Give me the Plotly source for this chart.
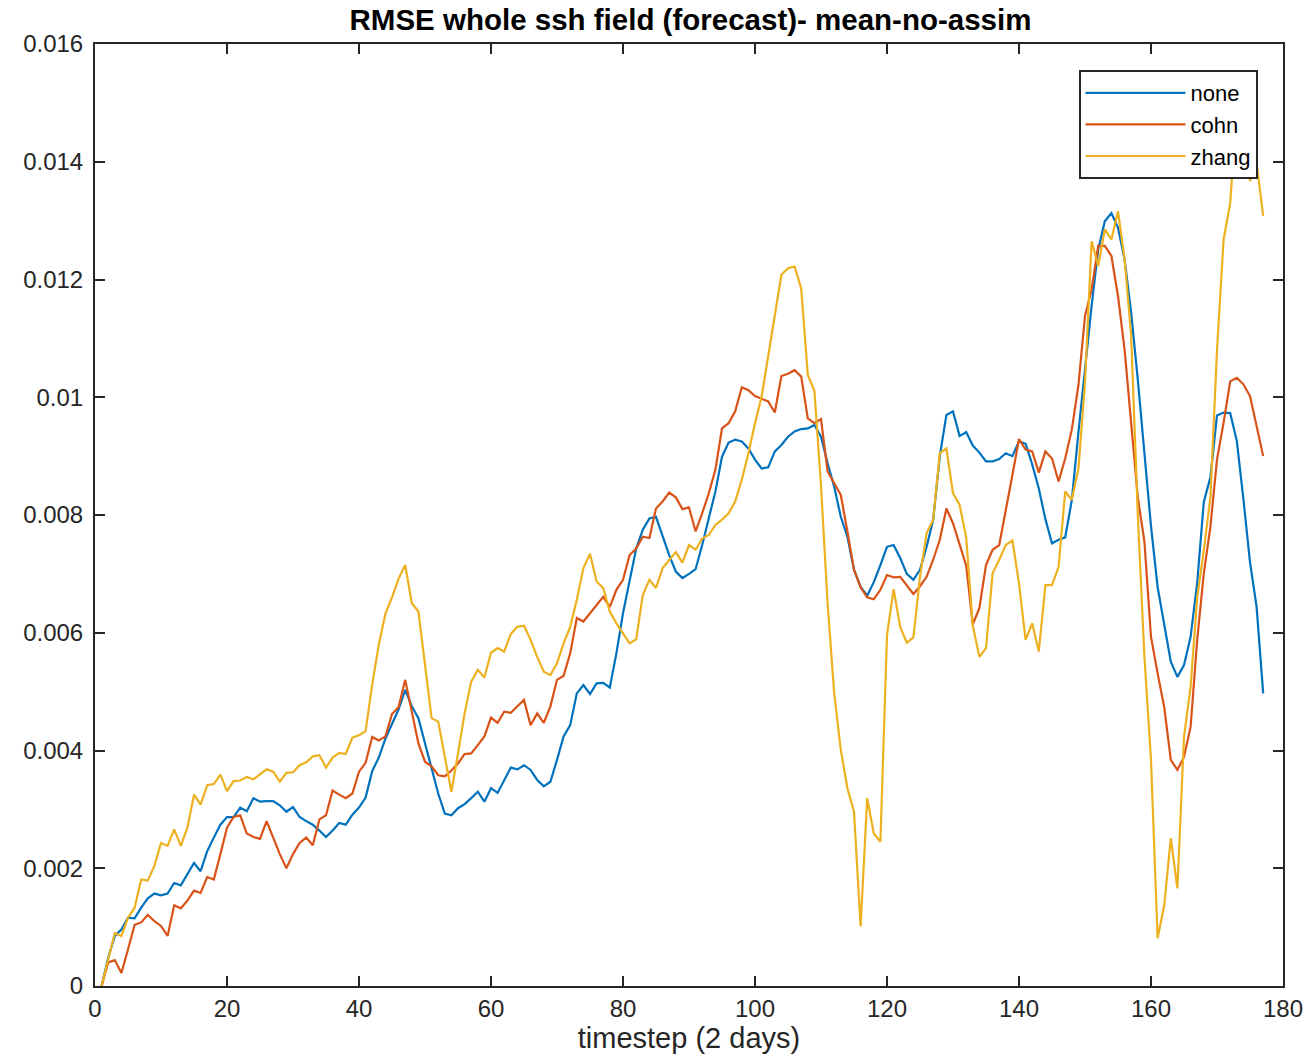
import plotly.graph_objects as go

timestep = list(range(1, 178))

none_ms = [
    0, 0.48, 0.85, 0.96, 1.16, 1.15, 1.33, 1.49, 1.57, 1.54,
    1.57, 1.75, 1.71, 1.90, 2.09, 1.95, 2.29, 2.52, 2.74, 2.87,
    2.87, 3.03, 2.97, 3.19, 3.13, 3.14, 3.14, 3.07, 2.96, 3.04,
    2.87, 2.80, 2.74, 2.64, 2.53, 2.64, 2.77, 2.74, 2.91, 3.03,
    3.20, 3.65, 3.88, 4.20, 4.46, 4.70, 5.03, 4.75, 4.55, 4.12,
    3.67, 3.27, 2.93, 2.90, 3.02, 3.09, 3.19, 3.30, 3.13, 3.36,
    3.28, 3.50, 3.71, 3.68, 3.75, 3.67, 3.50, 3.39, 3.47, 3.84,
    4.24, 4.43, 4.97, 5.11, 4.96, 5.14, 5.15, 5.07, 5.65, 6.33,
    6.90, 7.43, 7.75, 7.94, 7.97, 7.63, 7.32, 7.04, 6.93, 7.00,
    7.08, 7.49, 7.94, 8.40, 8.99, 9.23, 9.28, 9.25, 9.13, 8.94,
    8.79, 8.81, 9.08, 9.19, 9.33, 9.42, 9.46, 9.47, 9.53, 9.33,
    8.88, 8.48, 7.97, 7.63, 7.07, 6.78, 6.63, 6.86, 7.15, 7.46,
    7.49, 7.27, 7.00, 6.90, 7.07, 7.46, 7.92, 9.00, 9.70, 9.76,
    9.34, 9.41, 9.18, 9.06, 8.91, 8.91, 8.95, 9.05, 9.00, 9.25,
    9.21, 8.86, 8.45, 7.93, 7.52, 7.58, 7.62, 8.25, 9.40, 10.53,
    11.55, 12.51, 12.99, 13.13, 12.88, 12.34, 11.43, 10.30, 9.11, 7.81,
    6.78, 6.16, 5.51, 5.25, 5.45, 5.93, 6.85, 8.22, 8.64, 9.69,
    9.74, 9.73, 9.26, 8.27, 7.20, 6.44, 4.97,
]

cohn_ms = [
    0, 0.40, 0.44, 0.22, 0.62, 1.04, 1.08, 1.21, 1.10, 1.02,
    0.85, 1.37, 1.32, 1.45, 1.62, 1.58, 1.85, 1.81, 2.24, 2.69,
    2.87, 2.90, 2.59, 2.53, 2.50, 2.80, 2.52, 2.24, 2.00, 2.24,
    2.43, 2.52, 2.39, 2.83, 2.90, 3.32, 3.25, 3.19, 3.27, 3.64,
    3.79, 4.23, 4.17, 4.24, 4.62, 4.74, 5.20, 4.63, 4.12, 3.81,
    3.73, 3.58, 3.56, 3.66, 3.78, 3.94, 3.95, 4.09, 4.24, 4.56,
    4.47, 4.66, 4.64, 4.75, 4.86, 4.43, 4.63, 4.47, 4.75, 5.20,
    5.27, 5.65, 6.25, 6.19, 6.33, 6.47, 6.61, 6.44, 6.73, 6.90,
    7.32, 7.43, 7.63, 7.61, 8.11, 8.23, 8.38, 8.30, 8.10, 8.13,
    7.72, 8.03, 8.37, 8.77, 9.47, 9.56, 9.76, 10.17, 10.12, 10.02,
    9.98, 9.93, 9.74, 10.36, 10.40, 10.46, 10.35, 9.64, 9.56, 9.63,
    8.74, 8.54, 8.34, 7.72, 7.07, 6.77, 6.60, 6.57, 6.73, 6.98,
    6.94, 6.95, 6.81, 6.66, 6.79, 6.95, 7.24, 7.58, 8.11, 7.86,
    7.50, 7.14, 6.14, 6.42, 7.15, 7.41, 7.49, 8.06, 8.68, 9.29,
    9.11, 9.08, 8.72, 9.08, 8.96, 8.57, 8.96, 9.45, 10.20, 11.38,
    11.83, 12.57, 12.57, 12.40, 11.72, 10.81, 9.55, 8.30, 7.55, 5.93,
    5.31, 4.74, 3.84, 3.67, 3.89, 4.40, 5.88, 7.01, 7.80, 8.94,
    9.57, 10.27, 10.33, 10.22, 10.02, 9.51, 9.00,
]

zhang_ms = [
    0, 0.45, 0.90, 0.85, 1.16, 1.33, 1.81, 1.79, 2.04, 2.43,
    2.38, 2.66, 2.38, 2.69, 3.25, 3.08, 3.41, 3.43, 3.59, 3.31,
    3.48, 3.49, 3.55, 3.51, 3.59, 3.68, 3.64, 3.47, 3.62, 3.63,
    3.75, 3.80, 3.90, 3.92, 3.71, 3.88, 3.96, 3.94, 4.22, 4.26,
    4.33, 5.12, 5.80, 6.32, 6.60, 6.92, 7.15, 6.50, 6.36, 5.45,
    4.55, 4.49, 3.90, 3.30, 3.95, 4.63, 5.17, 5.37, 5.24, 5.66,
    5.74, 5.68, 5.98, 6.10, 6.12, 5.88, 5.59, 5.34, 5.28, 5.48,
    5.82, 6.10, 6.56, 7.10, 7.34, 6.87, 6.76, 6.36, 6.16, 5.99,
    5.82, 5.89, 6.64, 6.90, 6.76, 7.10, 7.23, 7.37, 7.19, 7.49,
    7.41, 7.60, 7.66, 7.83, 7.92, 8.03, 8.23, 8.60, 9.05, 9.56,
    10.01, 10.69, 11.37, 12.08, 12.19, 12.22, 11.85, 10.38, 10.11, 8.50,
    6.50, 4.97, 4.01, 3.36, 2.96, 1.01, 3.19, 2.59, 2.45, 5.96,
    6.74, 6.10, 5.83, 5.92, 6.95, 7.69, 7.92, 9.05, 9.13, 8.37,
    8.17, 7.62, 6.12, 5.59, 5.74, 7.01, 7.24, 7.49, 7.57, 6.84,
    5.88, 6.16, 5.68, 6.81, 6.81, 7.12, 8.40, 8.26, 8.78, 10.25,
    12.65, 12.23, 12.85, 12.68, 13.16, 12.34, 11.04, 8.00, 5.60, 3.84,
    0.81, 1.37, 2.51, 1.66, 4.23, 5.08, 6.60, 7.40, 8.30, 10.80,
    12.68, 13.30, 14.90, 14.70, 13.67, 13.98, 13.08,
]

series_names = ["none", "cohn", "zhang"]
series_colors = ["#0072BD", "#D95319", "#EDB120"]

y_tickvals = [0, 0.002, 0.004, 0.006, 0.008, 0.01, 0.012, 0.014, 0.016]
y_ticktext = ["0", "0.002", "0.004", "0.006", "0.008", "0.01", "0.012", "0.014", "0.016"]
x_tickvals = [0, 20, 40, 60, 80, 100, 120, 140, 160, 180]

FONT = "Liberation Sans, Arial, Helvetica, sans-serif"
AXC = "#262626"

fig = go.Figure()
for name, vals, col in zip(series_names, [none_ms, cohn_ms, zhang_ms], series_colors):
    fig.add_trace(go.Scatter(
        x=timestep, y=[v / 1000.0 for v in vals], mode="lines", name=name,
        line=dict(color=col, width=2.2), hoverinfo="skip",
    ))

fig.update_layout(
    width=1315, height=1056,
    margin=dict(l=95, r=29, t=44, b=70),
    paper_bgcolor="white", plot_bgcolor="white",
    font=dict(family=FONT, color=AXC, size=24),
    title=dict(
        text="<b>RMSE whole ssh field (forecast)- mean-no-assim</b>",
        x=(95 + 1286) / 2 / 1315, xanchor="center",
        y=1 - 20 / 1056, yanchor="middle",
        font=dict(family=FONT, size=29.5, color="#000000"),
    ),
    showlegend=True,
    legend=dict(
        x=(1081 - 95) / 1191, xanchor="left",
        y=(986 - 70) / 942, yanchor="top",
        bgcolor="white", bordercolor="#262626", borderwidth=2,
        font=dict(family=FONT, size=22, color="#000000"),
        tracegroupgap=0, itemwidth=100,
    ),
)

fig.update_xaxes(
    range=[0, 180], tickvals=x_tickvals,
    showline=True, linecolor=AXC, linewidth=2, mirror="allticks",
    ticks="inside", ticklen=10, tickwidth=2, tickcolor=AXC,
    showgrid=False, zeroline=False,
    title=dict(text="timestep (2 days)", font=dict(size=29, color=AXC), standoff=2),
    tickfont=dict(size=24, color=AXC),
)
fig.update_yaxes(
    range=[0, 0.016], tickvals=y_tickvals, ticktext=y_ticktext,
    showline=True, linecolor=AXC, linewidth=2, mirror="allticks",
    ticks="inside", ticklen=10, tickwidth=2, tickcolor=AXC,
    showgrid=False, zeroline=False, ticklabelstandoff=5,
    tickfont=dict(size=24, color=AXC),
)

fig.write_html("out.html")
